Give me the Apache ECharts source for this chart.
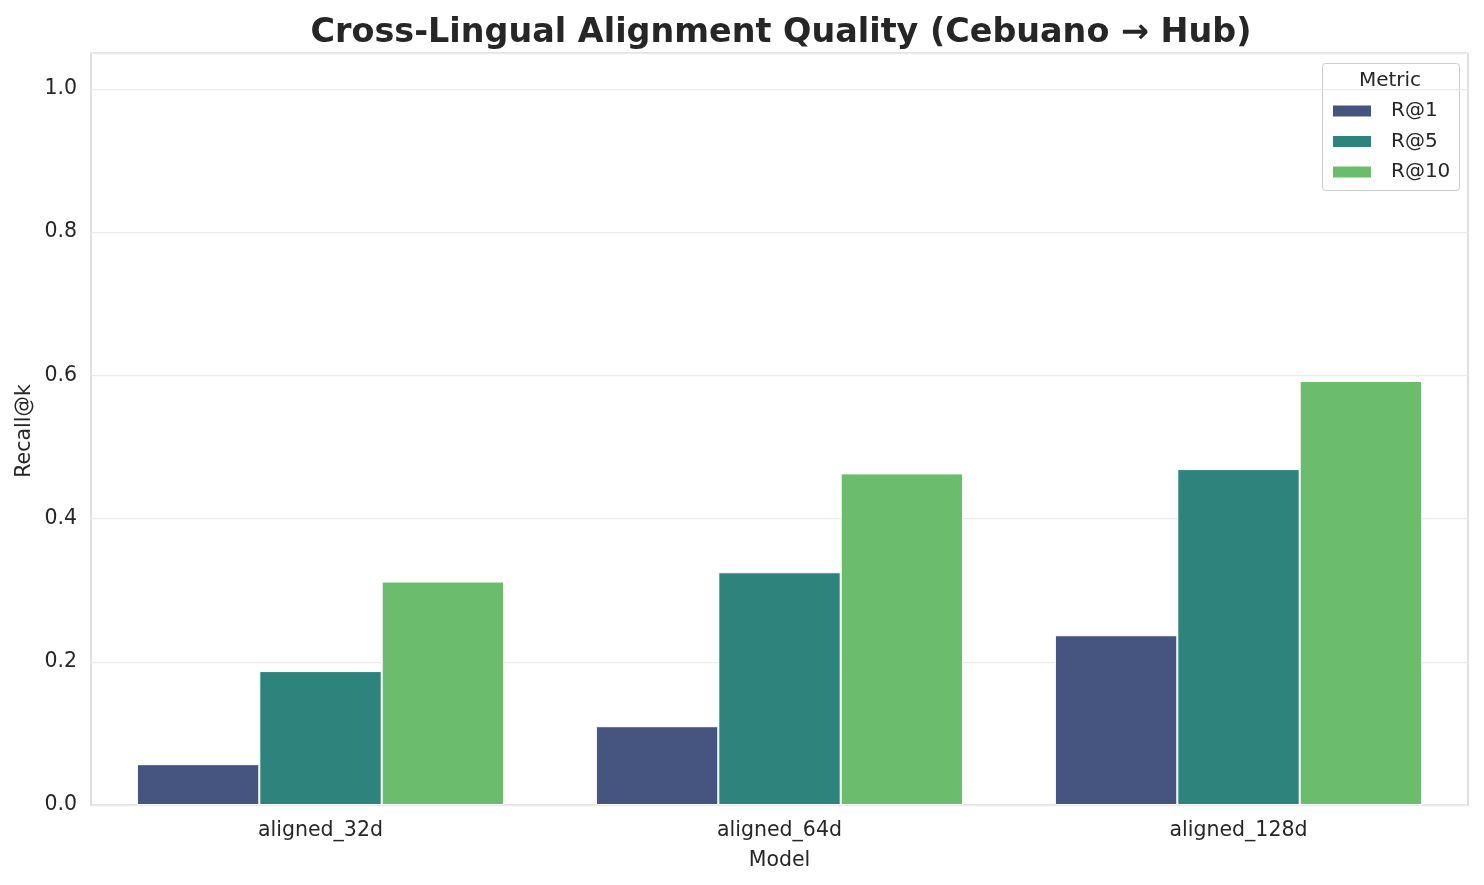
<!DOCTYPE html>
<html>
<head>
<meta charset="utf-8">
<script src="https://cdn.jsdelivr.net/npm/echarts@6/dist/echarts.min.js"></script>
<style>
html, body { margin: 0; padding: 0; background: #fff; }
#chart { width: 1484px; height: 885px; }
</style>
</head>
<body>
<div id="chart"></div>
<script>
// data
var models = ['aligned_32d', 'aligned_64d', 'aligned_128d'];
var metrics = ['R@1', 'R@5', 'R@10'];
var r1 = [0.057, 0.110, 0.237];
var r5 = [0.187, 0.325, 0.469];
var r10 = [0.312, 0.463, 0.592];
var yTicks = [0, 0.2, 0.4, 0.6, 0.8, 1.0];

var colors = ['#46557f', '#2e837c', '#6bbc6c'];
var font = 'DejaVu Sans';
var textColor = '#262626';

var chart = echarts.init(document.getElementById('chart'));

function makeSeries(name, values, color) {
	return {
		name: name,
		type: 'bar',
		data: values,
		barGap: '0%',
		barCategoryGap: '20%',
		itemStyle: { color: color, borderColor: '#ffffff', borderWidth: 1 }
	};
}

chart.setOption({
	animation: false,
	backgroundColor: '#ffffff',
	color: colors,
	title: {
		text: 'Cross-Lingual Alignment Quality (Cebuano \u2192 Hub)',
		left: 776, top: 12, textAlign: 'center',
		textStyle: { fontFamily: font, fontSize: 33.4, fontWeight: 'bold', color: textColor }
	},
	grid: {
		left: 91, right: 16, top: 53, bottom: 80,
		show: true, borderColor: '#cccccc', borderWidth: 1.25
	},
	legend: {
		data: metrics,
		orient: 'vertical',
		left: 1331, top: 101,
		padding: 0,
		itemWidth: 40, itemHeight: 13, itemGap: 10.5,
		icon: 'rect',
		textStyle: { fontFamily: font, fontSize: 20, color: textColor, padding: [0, 0, 0, 14] }
	},
	graphic: [
		{
			type: 'rect', left: 1322, top: 63, z: 0,
			shape: { width: 137, height: 127, r: 3 },
			style: { fill: 'rgba(255,255,255,0.8)', stroke: '#cccccc', lineWidth: 1 }
		},
		{
			type: 'text', x: 1390, y: 81, z: 1,
			style: {
				text: 'Metric', fontFamily: font, fontSize: 20, fill: textColor,
				textAlign: 'center', textVerticalAlign: 'middle'
			}
		},
		// y axis title, placed by hand
		{
			type: 'text', x: 25, y: 431, rotation: Math.PI / 2, z: 1,
			style: {
				text: 'Recall@k', fontFamily: font, fontSize: 20.5, fill: textColor,
				textAlign: 'center', textVerticalAlign: 'middle'
			}
		}
	],
	xAxis: {
		type: 'category',
		data: models,
		name: 'Model',
		nameLocation: 'middle',
		nameGap: 45,
		nameTextStyle: { fontFamily: font, fontSize: 20.5, color: textColor },
		axisLine: { show: false },
		axisTick: { show: false },
		axisLabel: { fontFamily: font, fontSize: 20.5, color: textColor, margin: 15 },
		splitLine: { show: false }
	},
	yAxis: {
		type: 'value',
		min: 0, max: 1.05, interval: 0.2,
		axisLine: { show: false },
		axisTick: { show: false },
		axisLabel: {
			fontFamily: font, fontSize: 20.5, color: textColor, margin: 14,
			formatter: function (v) {
				for (var i = 0; i < yTicks.length; i++) {
					if (Math.abs(v - yTicks[i]) < 1e-9) return yTicks[i].toFixed(1);
				}
				return '';
			}
		},
		splitLine: { lineStyle: { color: '#ebebeb', width: 1.25 } }
	},
	series: [
		makeSeries(metrics[0], r1, colors[0]),
		makeSeries(metrics[1], r5, colors[1]),
		makeSeries(metrics[2], r10, colors[2])
	]
});
</script>
</body>
</html>
